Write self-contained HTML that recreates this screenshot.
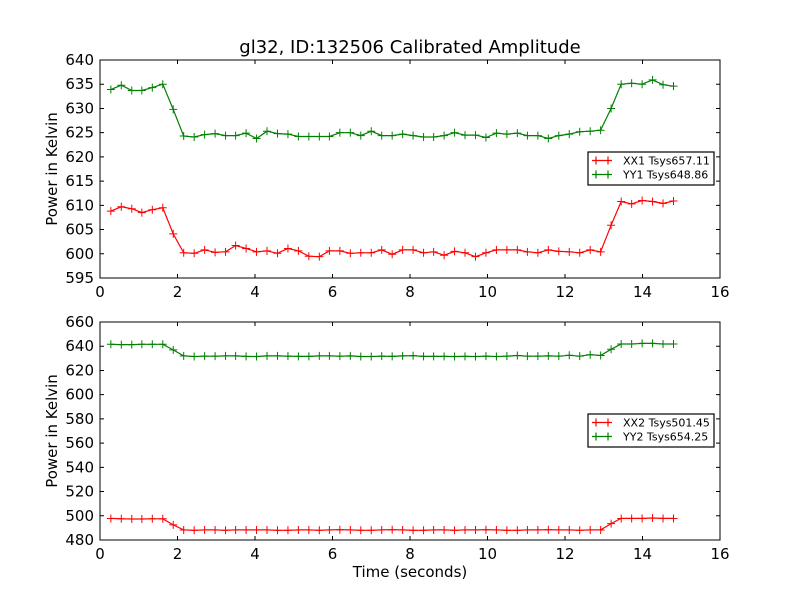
<!DOCTYPE html>
<html><head><meta charset="utf-8"><style>
html,body{margin:0;padding:0;background:#fff;}
svg{display:block;font-family:"DejaVu Sans","Liberation Sans",sans-serif;}
</style></head><body>
<svg id="fig" width="800" height="600" viewBox="0 0 800 600">
<rect width="800" height="600" fill="#fff"/>
<text x="410" y="53" text-anchor="middle" font-size="18">gl32, ID:132506 Calibrated Amplitude</text>
<g id="top"></g>
<g id="bot"></g>
<text x="410" y="577" text-anchor="middle" font-size="15">Time (seconds)</text>
</svg>
<script>
const times = [0.28,0.55,0.82,1.08,1.35,1.62,1.89,2.16,2.43,2.7,2.97,3.24,3.5,3.77,4.04,4.31,4.58,4.85,5.12,5.39,5.66,5.92,6.19,6.46,6.73,7.0,7.27,7.54,7.81,8.08,8.35,8.61,8.88,9.15,9.42,9.69,9.96,10.23,10.5,10.77,11.03,11.3,11.57,11.84,12.11,12.38,12.65,12.92,13.19,13.45,13.72,13.99,14.26,14.53,14.8];
const xx1 = [608.8,609.7,609.3,608.5,609.1,609.5,604.1,600.2,600.1,600.8,600.3,600.4,601.7,601.1,600.4,600.6,600.1,601.1,600.6,599.5,599.4,600.6,600.6,600.1,600.2,600.2,600.8,599.9,600.8,600.8,600.2,600.4,599.7,600.5,600.2,599.4,600.2,600.8,600.8,600.8,600.4,600.2,600.8,600.5,600.4,600.2,600.8,600.4,605.9,610.8,610.3,611.0,610.8,610.4,610.9];
const yy1 = [633.9,634.8,633.7,633.7,634.3,635.0,629.8,624.3,624.1,624.6,624.8,624.4,624.4,624.9,623.8,625.3,624.8,624.7,624.2,624.2,624.2,624.2,625.0,625.0,624.4,625.3,624.4,624.4,624.7,624.4,624.1,624.1,624.4,625.0,624.5,624.5,624.0,624.9,624.7,624.9,624.4,624.4,623.8,624.4,624.7,625.2,625.3,625.5,630.0,635.0,635.2,635.0,635.9,634.9,634.6];
const xx2 = [497.8,497.5,497.3,497.3,497.5,497.5,492.5,488.3,488.0,488.3,488.3,488.0,488.3,488.3,488.3,488.3,488.0,488.0,488.3,488.3,488.0,488.3,488.5,488.3,488.0,488.0,488.3,488.5,488.3,488.0,488.0,488.3,488.3,488.0,488.3,488.3,488.5,488.3,488.0,488.0,488.3,488.3,488.5,488.3,488.3,488.0,488.3,488.3,493.5,497.8,497.8,497.8,498.2,497.8,497.8];
const yy2 = [641.6,641.3,641.3,641.6,641.6,641.6,637.0,632.0,631.5,631.8,631.8,632.0,632.0,631.6,631.5,632.0,632.0,631.8,631.6,631.6,632.0,632.0,631.8,632.0,631.5,631.5,631.8,631.6,632.0,632.2,631.6,631.6,631.6,631.5,631.6,631.5,631.8,631.5,631.8,632.3,631.8,631.8,632.0,631.8,632.5,631.8,633.0,632.3,637.5,641.8,641.8,642.3,642.3,641.8,641.8];
const xTicks = [0,2,4,6,8,10,12,14,16];
const yTicksTop = [595,600,605,610,615,620,625,630,635,640];
const yTicksBot = [480,500,520,540,560,580,600,620,640,660];
const labelsTop = ["XX1 Tsys657.11","YY1 Tsys648.86"];
const labelsBot = ["XX2 Tsys501.45","YY2 Tsys654.25"];
const NS="http://www.w3.org/2000/svg";
function mk(tag,attrs,parent){const e=document.createElementNS(NS,tag);for(const k in attrs)e.setAttribute(k,attrs[k]);parent.appendChild(e);return e;}
function panel(g,top,bottom,ymin,ymax,yTicks,s1,s2,labels,legY,name){
  const L=100,R=720;
  const sx=v=>L+(v-0)/(16-0)*(R-L);
  const sy=v=>bottom-(v-ymin)/(ymax-ymin)*(bottom-top);
  [[s1,"#ff0000",name+"-xx-series"],[s2,"#008000",name+"-yy-series"]].forEach(([s,c,n])=>{
    const pts=s.map((v,i)=>sx(times[i]).toFixed(1)+","+sy(v).toFixed(1)).join(" ");
    const pl=mk("polyline",{points:pts,fill:"none",stroke:c,"stroke-width":1.2},g);
    
    
    s.forEach((v,i)=>{const x=sx(times[i]),y=sy(v);
      const p=mk("path",{d:`M${x-4},${y}H${x+4}M${x},${y-4}V${y+4}`,stroke:c,"stroke-width":1},g);
      
      });
  });
  const box=mk("rect",{x:L,y:top,width:R-L,height:bottom-top,fill:"none",stroke:"#000","stroke-width":1},g);
  
  
  xTicks.forEach(t=>{const x=sx(t);
    mk("path",{d:`M${x},${bottom}V${bottom-4}M${x},${top}V${top+4}`,stroke:"#000"},g);
    const tx=mk("text",{x:x,y:bottom+19,"text-anchor":"middle","font-size":15},g);tx.textContent=t;
    
    });
  yTicks.forEach(t=>{const y=sy(t);
    mk("path",{d:`M${L},${y}H${L+4}M${R},${y}H${R-4}`,stroke:"#000"},g);
    const tx=mk("text",{x:L-6,y:y+5,"text-anchor":"end","font-size":15},g);tx.textContent=t;
    
    });
  const yt=mk("text",{x:0,y:0,"text-anchor":"middle","font-size":15,transform:`translate(57,${(top+bottom)/2}) rotate(-90)`},g);
  yt.textContent="Power in Kelvin";
  
  
  const lg=mk("g",{},g);
  
  
  mk("rect",{x:588,y:legY,width:126,height:33,fill:"#fff",stroke:"#000","stroke-width":1.2},lg);
  ["#ff0000","#008000"].forEach((c,i)=>{const y=legY+8.5+i*14;
    mk("path",{d:`M592,${y}H612M596,${y-4}V${y+4}M608,${y-4}V${y+4}`,stroke:c,"stroke-width":1.2},lg);
    const tx=mk("text",{x:623,y:y+4,"font-size":11},lg);tx.textContent=labels[i];
    
    });
}
panel(document.getElementById("top"),60,278,595,640,yTicksTop,xx1,yy1,labelsTop,152,"top");
panel(document.getElementById("bot"),322,540,480,660,yTicksBot,xx2,yy2,labelsBot,414,"bottom");
</script>
</body></html>
